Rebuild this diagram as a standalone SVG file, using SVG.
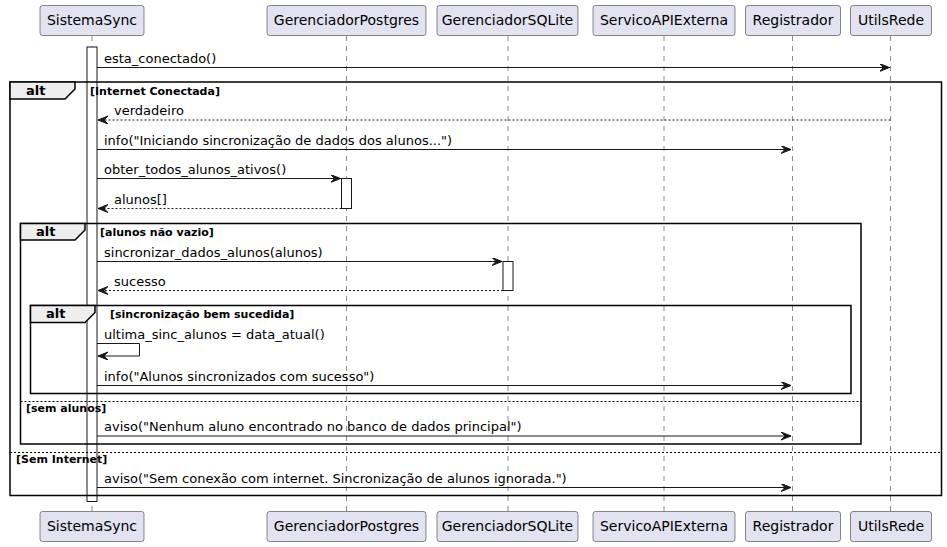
<svg xmlns="http://www.w3.org/2000/svg" width="947" height="547" viewBox="0 0 947 547">
<defs>
<style>
.pbox{fill:#E2E2F0;stroke:#181818;stroke-width:0.5}
.ptxt{font-family:"DejaVu Sans",sans-serif;font-size:14px;fill:#000;text-anchor:middle}
.life{stroke:#181818;stroke-width:0.5;stroke-dasharray:5,5;fill:none}
.act{fill:#FFFFFF;stroke:#181818;stroke-width:1}
.msg{stroke:#181818;stroke-width:1;fill:none;marker-end:url(#ah)}
.ret{stroke:#181818;stroke-width:1;fill:none;stroke-dasharray:2,2;marker-end:url(#ah)}
.mtxt{font-family:"DejaVu Sans",sans-serif;font-size:13px;fill:#000}
.frame{fill:none;stroke:#000;stroke-width:1.5}
.tab{fill:#EEEEEE;stroke:#000;stroke-width:1.5}
.sep{stroke:#000;stroke-width:1;stroke-dasharray:2,2}
.ftit{font-family:"DejaVu Sans",sans-serif;font-size:13px;font-weight:bold;fill:#000}
.guard{font-family:"DejaVu Sans",sans-serif;font-size:11px;font-weight:bold;fill:#000}
</style>
<marker id="ah" markerUnits="userSpaceOnUse" markerWidth="12" markerHeight="10" refX="10" refY="4" orient="auto" viewBox="0 0 12 10">
<path d="M0,0 L10,4 L0,8 L4,4 Z" fill="#181818" stroke="#181818" stroke-width="1"/>
</marker>
</defs>
<rect width="947" height="547" fill="#FFFFFF"/>

<g id="lifelines">
<line class="life" x1="92" y1="36" x2="92" y2="511"/>
<line class="life" x1="346.5" y1="36" x2="346.5" y2="511"/>
<line class="life" x1="508" y1="36" x2="508" y2="511"/>
<line class="life" x1="664" y1="36" x2="664" y2="511"/>
<line class="life" x1="792.5" y1="36" x2="792.5" y2="511"/>
<line class="life" x1="890.5" y1="36" x2="890.5" y2="511"/>
</g>

<g id="SistemaSync">
<rect class="pbox" x="40" y="5.5" width="104" height="30" rx="2.5"/>
<text class="ptxt" x="92" y="25">SistemaSync</text>
<rect class="pbox" x="40" y="511.5" width="104" height="30" rx="2.5"/>
<text class="ptxt" x="92" y="531">SistemaSync</text>
</g>
<g id="GerenciadorPostgres">
<rect class="pbox" x="267" y="5.5" width="159" height="30" rx="2.5"/>
<text class="ptxt" x="346.5" y="25">GerenciadorPostgres</text>
<rect class="pbox" x="267" y="511.5" width="159" height="30" rx="2.5"/>
<text class="ptxt" x="346.5" y="531">GerenciadorPostgres</text>
</g>
<g id="GerenciadorSQLite">
<rect class="pbox" x="437" y="5.5" width="141" height="30" rx="2.5"/>
<text class="ptxt" x="507.5" y="25">GerenciadorSQLite</text>
<rect class="pbox" x="437" y="511.5" width="141" height="30" rx="2.5"/>
<text class="ptxt" x="507.5" y="531">GerenciadorSQLite</text>
</g>
<g id="ServicoAPIExterna">
<rect class="pbox" x="593" y="5.5" width="142" height="30" rx="2.5"/>
<text class="ptxt" x="664" y="25">ServicoAPIExterna</text>
<rect class="pbox" x="593" y="511.5" width="142" height="30" rx="2.5"/>
<text class="ptxt" x="664" y="531">ServicoAPIExterna</text>
</g>
<g id="Registrador">
<rect class="pbox" x="745.5" y="5.5" width="95" height="30" rx="2.5"/>
<text class="ptxt" x="793" y="25">Registrador</text>
<rect class="pbox" x="745.5" y="511.5" width="95" height="30" rx="2.5"/>
<text class="ptxt" x="793" y="531">Registrador</text>
</g>
<g id="UtilsRede">
<rect class="pbox" x="850.5" y="5.5" width="81" height="30" rx="2.5"/>
<text class="ptxt" x="891" y="25">UtilsRede</text>
<rect class="pbox" x="850.5" y="511.5" width="81" height="30" rx="2.5"/>
<text class="ptxt" x="891" y="531">UtilsRede</text>
</g>

<g id="activations">
<rect class="act" x="87" y="47" width="10" height="454.5"/>
<rect class="act" x="341.5" y="178.5" width="10" height="30"/>
<rect class="act" x="503" y="261.5" width="10" height="29"/>
</g>

<g id="frames">
<rect class="frame" x="10" y="82" width="931.5" height="413.5"/>
<polygon class="tab" points="10,82 75,82 75,89 65,99 10,99"/>
<text class="ftit" x="26" y="95">alt</text>
<text class="guard" x="90" y="95">[Internet Conectada]</text>
<line class="sep" x1="10" y1="452.5" x2="941.5" y2="452.5"/>
<text class="guard" x="16" y="463">[Sem Internet]</text>

<rect class="frame" x="20.5" y="223.5" width="840.5" height="220.5"/>
<polygon class="tab" points="20.5,223.5 85,223.5 85,230 75,240 20.5,240"/>
<text class="ftit" x="36" y="236">alt</text>
<text class="guard" x="100" y="236">[alunos não vazio]</text>
<line class="sep" x1="20.5" y1="401.5" x2="861" y2="401.5"/>
<text class="guard" x="26" y="412">[sem alunos]</text>

<rect class="frame" x="30.5" y="305.5" width="820.5" height="88"/>
<polygon class="tab" points="30.5,305.5 95,305.5 95,312.5 85,322.5 30.5,322.5"/>
<text class="ftit" x="46" y="318">alt</text>
<text class="guard" x="110" y="318">[sincronização bem sucedida]</text>
</g>

<g id="connectors">
<line class="msg" x1="97" y1="67.5" x2="889.5" y2="67.5"/>
<text class="mtxt" x="104" y="62.5">esta_conectado()</text>
<line class="ret" x1="890.5" y1="120" x2="98" y2="120"/>
<text class="mtxt" x="114" y="115">verdadeiro</text>
<line class="msg" x1="97" y1="149.5" x2="791" y2="149.5"/>
<text class="mtxt" x="104" y="144.5">info("Iniciando sincronização de dados dos alunos...")</text>
<line class="msg" x1="97" y1="178.5" x2="340.5" y2="178.5"/>
<text class="mtxt" x="104" y="173.5">obter_todos_alunos_ativos()</text>
<line class="ret" x1="341.5" y1="208.5" x2="98" y2="208.5"/>
<text class="mtxt" x="114" y="203.5">alunos[]</text>
<line class="msg" x1="97" y1="261.5" x2="502" y2="261.5"/>
<text class="mtxt" x="104" y="256.5">sincronizar_dados_alunos(alunos)</text>
<line class="ret" x1="503" y1="290.5" x2="98" y2="290.5"/>
<text class="mtxt" x="114" y="285.5">sucesso</text>
<polyline class="msg" points="97,343.5 139.5,343.5 139.5,356 98,356"/>
<text class="mtxt" x="104" y="338.5">ultima_sinc_alunos = data_atual()</text>
<line class="msg" x1="97" y1="385.5" x2="791" y2="385.5"/>
<text class="mtxt" x="104" y="380.5">info("Alunos sincronizados com sucesso")</text>
<line class="msg" x1="97" y1="436" x2="791" y2="436"/>
<text class="mtxt" x="104" y="431">aviso("Nenhum aluno encontrado no banco de dados principal")</text>
<line class="msg" x1="97" y1="487.5" x2="791" y2="487.5"/>
<text class="mtxt" x="104" y="482.5">aviso("Sem conexão com internet. Sincronização de alunos ignorada.")</text>
</g>
</svg>
